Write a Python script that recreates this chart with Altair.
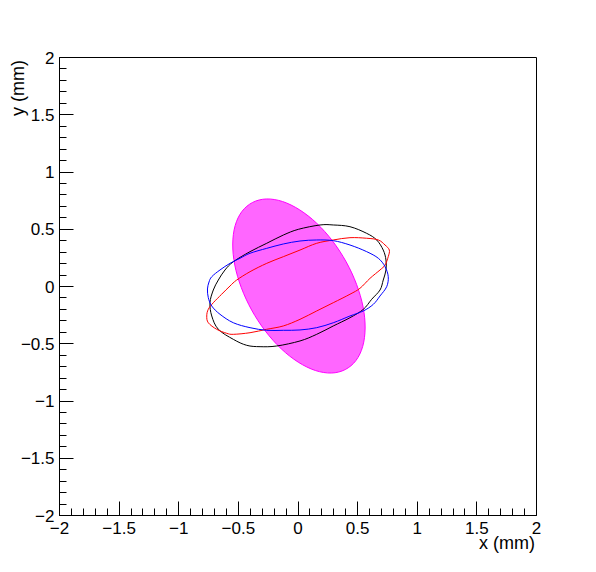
import altair as alt
import pandas as pd

# ---- data (mm) ----
# filled magenta ellipse outline
mag_x = [-0.376, -0.466, -0.523, -0.543, -0.526, -0.471, -0.384, -0.270, -0.137, 0.006, 0.150, 0.285,
         0.400, 0.490, 0.547, 0.567, 0.550, 0.495, 0.408, 0.294, 0.161, 0.018, -0.126, -0.261]
mag_y = [0.730, 0.651, 0.527, 0.367, 0.183, -0.015, -0.211, -0.393, -0.548, -0.665, -0.738, -0.760,
         -0.730, -0.651, -0.527, -0.367, -0.183, 0.015, 0.211, 0.393, 0.548, 0.665, 0.738, 0.760]

# black contour
blk_x = [0.007, 0.189, 0.300, 0.440, 0.580, 0.664, 0.719, 0.742, 0.742, 0.719, 0.692, 0.622, 0.552, 0.440,
         0.300, 0.161, 0.021, -0.174, -0.314, -0.426, -0.538, -0.664, -0.719, -0.734, -0.706, -0.664,
         -0.608, -0.538, -0.398, -0.258, -0.119]
blk_y = [0.495, 0.533, 0.533, 0.518, 0.460, 0.402, 0.314, 0.227, 0.140, 0.052, -0.035, -0.116, -0.204,
         -0.277, -0.349, -0.422, -0.480, -0.524, -0.530, -0.518, -0.466, -0.378, -0.262, -0.146, -0.035,
         0.052, 0.140, 0.212, 0.300, 0.373, 0.445]

# red contour
red_x = [0.021, 0.161, 0.300, 0.440, 0.580, 0.678, 0.734, 0.770, 0.761, 0.734, 0.692, 0.608, 0.524, 0.440,
         0.300, 0.161, 0.021, -0.119, -0.258, -0.398, -0.538, -0.594, -0.678, -0.748, -0.761, -0.748,
         -0.706, -0.636, -0.566, -0.510, -0.398, -0.258, -0.119]
red_y = [0.314, 0.373, 0.402, 0.422, 0.417, 0.402, 0.358, 0.314, 0.256, 0.183, 0.140, 0.067, -0.020,
         -0.072, -0.146, -0.218, -0.291, -0.349, -0.378, -0.408, -0.422, -0.413, -0.378, -0.321, -0.262,
         -0.203, -0.146, -0.072, 0.000, 0.052, 0.125, 0.198, 0.256]

# blue contour
blu_x = [0.021, 0.161, 0.300, 0.440, 0.580, 0.678, 0.734, 0.761, 0.748, 0.692, 0.636, 0.552, 0.440, 0.300,
         0.161, 0.021, -0.119, -0.258, -0.398, -0.538, -0.650, -0.719, -0.748, -0.755, -0.742, -0.719,
         -0.650, -0.566, -0.482, -0.398, -0.258, -0.119]
blu_y = [0.393, 0.402, 0.396, 0.358, 0.300, 0.242, 0.169, 0.081, -0.006, -0.087, -0.160, -0.218, -0.262,
         -0.321, -0.364, -0.384, -0.387, -0.387, -0.364, -0.321, -0.247, -0.175, -0.102, -0.026, 0.035,
         0.081, 0.140, 0.198, 0.242, 0.286, 0.329, 0.367]

curve_names = ["black", "red", "blue"]
curve_colors = ["#000000", "#ff0000", "#0000ff"]

major_ticks = [-2, -1.5, -1, -0.5, 0, 0.5, 1, 1.5, 2]
minor_ticks = [round(-2 + 0.1 * i, 1) for i in range(41)]

# ---- tables ----
mag_df = pd.DataFrame({"x": mag_x, "y": mag_y, "i": list(range(len(mag_x)))})
rows = []
for name, xs_, ys_ in zip(curve_names, [blk_x, red_x, blu_x], [blk_y, red_y, blu_y]):
    for k, (a, b) in enumerate(zip(xs_, ys_)):
        rows.append({"x": a, "y": b, "curve": name, "i": k})
lines_df = pd.DataFrame(rows)

FONT = "Liberation Sans"
xsc = alt.Scale(domain=[-2, 2], nice=False, zero=False)
ysc = alt.Scale(domain=[-2, 2], nice=False, zero=False)

x_minor = alt.Axis(orient="bottom", values=minor_ticks, tickSize=7, offset=-7, labels=False,
                   title="", domain=False, grid=False, tickColor="black")
y_minor = alt.Axis(orient="left", values=minor_ticks, tickSize=7, offset=-7, labels=False,
                   title="", domain=False, grid=False, tickColor="black")

x_major = alt.Axis(orient="bottom", values=major_ticks, tickSize=14, offset=-14, format="~g",
                   domain=False, grid=False, tickColor="black",
                   labelFont=FONT, labelFontSize=17, labelColor="black", labelPadding=5,
                   labelFlush=False, labelOverlap=False,
                   title="x (mm)", titleFont=FONT, titleFontSize=18, titleFontWeight="normal",
                   titleColor="black", titleAlign="right", titleBaseline="alphabetic",
                   titleX=475.5, titleY=47.5)
y_major = alt.Axis(orient="left", values=major_ticks, tickSize=14, offset=-14, format="~g",
                   domain=False, grid=False, tickColor="black",
                   labelFont=FONT, labelFontSize=17, labelColor="black", labelPadding=5,
                   labelOffset=1, labelFlush=False, labelOverlap=False,
                   title="y (mm)", titleFont=FONT, titleFontSize=18, titleFontWeight="normal",
                   titleColor="black", titleAngle=270, titleAlign="right", titleBaseline="alphabetic",
                   titleX=-49.5, titleY=2.5)

fill_layer = alt.Chart(mag_df).mark_line(
    fill="#ff00ff", fillOpacity=0.6, stroke="#ff00ff", strokeWidth=1, interpolate="cardinal-closed"
).encode(
    x=alt.X("x:Q", scale=xsc, axis=x_minor),
    y=alt.Y("y:Q", scale=ysc, axis=y_minor),
    order=alt.Order("i:Q"),
)

line_layer = alt.Chart(lines_df).mark_line(strokeWidth=1, interpolate="cardinal-closed").encode(
    x=alt.X("x:Q", scale=xsc, axis=x_major),
    y=alt.Y("y:Q", scale=ysc, axis=y_major),
    color=alt.Color("curve:N", scale=alt.Scale(domain=curve_names, range=curve_colors), legend=None),
    order=alt.Order("i:Q"),
)

chart = alt.layer(fill_layer, line_layer).resolve_axis(
    x="independent", y="independent"
).properties(
    width=477, height=458,
    autosize=alt.AutoSizeParams(type="none"),
    padding={"left": 51, "top": 49, "right": 52, "bottom": 49},
    background="white",
).configure_view(stroke="black", strokeWidth=1)

chart.save("out.html", embed_options={"renderer": "svg", "actions": False})
